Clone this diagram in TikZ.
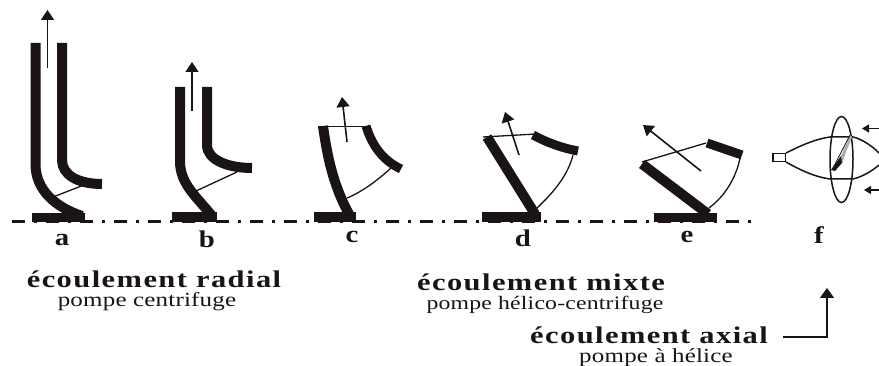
\documentclass[tikz,border=0pt]{standalone}
\usepackage{fontspec}
\setmainfont{Liberation Serif}
\newfontfamily\headfont[LetterSpace=6,FakeStretch=1.27]{Liberation Serif Bold}
\newfontfamily\subfont[LetterSpace=1,FakeStretch=1.25]{Liberation Serif}
\newfontfamily\letterfont[FakeStretch=1.2]{Liberation Serif Bold}
\usetikzlibrary{arrows.meta}
\definecolor{ink}{HTML}{1A1414}
\tikzset{
  wall/.style={draw=ink,line width=10pt},
  wallthin/.style={draw=ink,line width=9pt},
  blade/.style={draw=ink,line width=1.3pt},
  hub/.style={fill=ink,draw=none},
  flow/.style={draw=ink,line width=1.6pt,-{Triangle[width=13pt,length=10pt]}},
  small/.style={draw=ink,line width=1.2pt,-{Triangle[width=8pt,length=7pt]}},
  letter/.style={font=\fontsize{24}{24}\letterfont,text=ink,inner sep=0pt},
  head/.style={font=\fontsize{24}{24}\headfont,text=ink,inner sep=0pt},
  sub/.style={font=\fontsize{20}{20}\subfont,text=ink,inner sep=0pt},
  submix/.style={font=\fontsize{19}{19}\subfont,text=ink,inner sep=0pt},
  axisline/.style={draw=ink,line width=2.2pt,dash pattern=on 13pt off 9pt on 3pt off 9pt}
}
\begin{document}
\begin{tikzpicture}[x=1pt,y=-1pt]
\useasboundingbox[fill=white] (0,0) rectangle (879,366);
% axis
\draw[axisline] (12,221.5) -- (752,221.5);
% a
\fill[hub] (32,213) rectangle (85,222);
\draw[wall] (35.5,43) -- (35.5,165) .. controls (36,190) and (55,207) .. (82,216);
\draw[wall] (62,43) -- (62,160) .. controls (62,175) and (78,184) .. (102,184);
\draw[blade] (53,197) -- (84,185);
\draw[flow] (47.5,68) -- (47.5,10);
% b
\fill[hub] (172,212) rectangle (217,222);
\draw[wall] (180,87) -- (180,163) .. controls (181,185) and (197,197) .. (212,216);
\draw[wall] (207,87) -- (207,145) .. controls (207,160) and (228,168) .. (252,168);
\draw[blade] (196,191) -- (237,172);
\draw[flow] (192,111) -- (192,62);
% c
\fill[hub] (313.5,212) rectangle (356,222);
\draw[wall] (323,126) .. controls (327,155) and (333,185) .. (349,214);
\draw[wallthin] (366,126) .. controls (372,145) and (382,160) .. (401,169);
\draw[blade] (318,126.5) -- (371,126.5);
\draw[blade] (347,198) .. controls (362,192) and (378,180) .. (391,168);
\draw[flow] (347,142) -- (342,97);
% d
\fill[hub] (482,212) rectangle (541,222);
\draw[wall] (487,137) -- (535,214);
\draw[wallthin] (533,135) .. controls (548,143) and (562,148) .. (578,151);
\draw[blade] (483,137) -- (536,134);
\draw[blade] (537,208) .. controls (554,192) and (568,175) .. (573,155);
\draw[flow] (519,155) -- (505,112);
% e
\fill[hub] (654,213) rectangle (717,222.5);
\draw[wall] (642,164) -- (708,214);
\draw[wallthin] (707,143) -- (742,155);
\draw[blade] (642,162) -- (706,143);
\draw[blade] (709,208) .. controls (725,196) and (736,178) .. (740,158);
\draw[flow] (701,171) -- (643,125);
% f
\draw[draw=ink,line width=1.6pt] (773,153.5) rectangle (785.5,161.5);
\draw[blade,line width=1.5pt] (841.5,159.5) ellipse [x radius=11.5, y radius=43];
\draw[blade,line width=1.5pt] (786,153) .. controls (800,146) and (815,139) .. (830,137) -- (853,137) .. controls (862,139) and (872,146) .. (879,153);
\draw[blade,line width=1.5pt] (786,162) .. controls (800,170) and (815,177) .. (830,179) -- (853,179) .. controls (862,177) and (872,171) .. (879,165);
\fill[ink] (831,170) -- (841,156) -- (846,150) -- (842,163) -- (835,171) -- cycle;
\fill[ink!35] (841,156) -- (850,135) -- (852,137) -- (846,152) -- (842,163) -- cycle;
\draw[draw=ink,line width=.8pt] (832,170) -- (850,135);
\coordinate (fa1) at (879,128.5);
\coordinate (fa2) at (862,128.5);
\coordinate (fb1) at (879,190);
\coordinate (fb2) at (864,190);
\draw[small] (fa1) -- (fa2);
\draw[small] (fb1) -- (fb2);
% letters
\node[letter] (la) at (62,240) {a};
\node[letter] (lb) at (207,239) {b};
\node[letter] (lc) at (352,237) {c};
\node[letter] (ld) at (523,238) {d};
\node[letter] (le) at (687,237) {e};
\node[letter] (lf) at (819,235) {f};
% titles
\node[head] (radial) at (154,279) {écoulement radial};
\node[sub] (radialsub) at (147,302) {pompe centrifuge};
\node[head] (mixte) at (541,282) {écoulement mixte};
\node[submix] (mixtesub) at (545,304.5) {pompe hélico-centrifuge};
\node[head] (axial) at (649,335) {écoulement axial};
\node[sub] (axialsub) at (656,357.5) {pompe à hélice};
\coordinate (up) at (827,288);
\coordinate (start) at (783,337);
\draw[draw=ink,line width=1.2pt,-{Triangle[width=14pt,length=10pt]}] (start) -| (up);
\end{tikzpicture}
\end{document}
